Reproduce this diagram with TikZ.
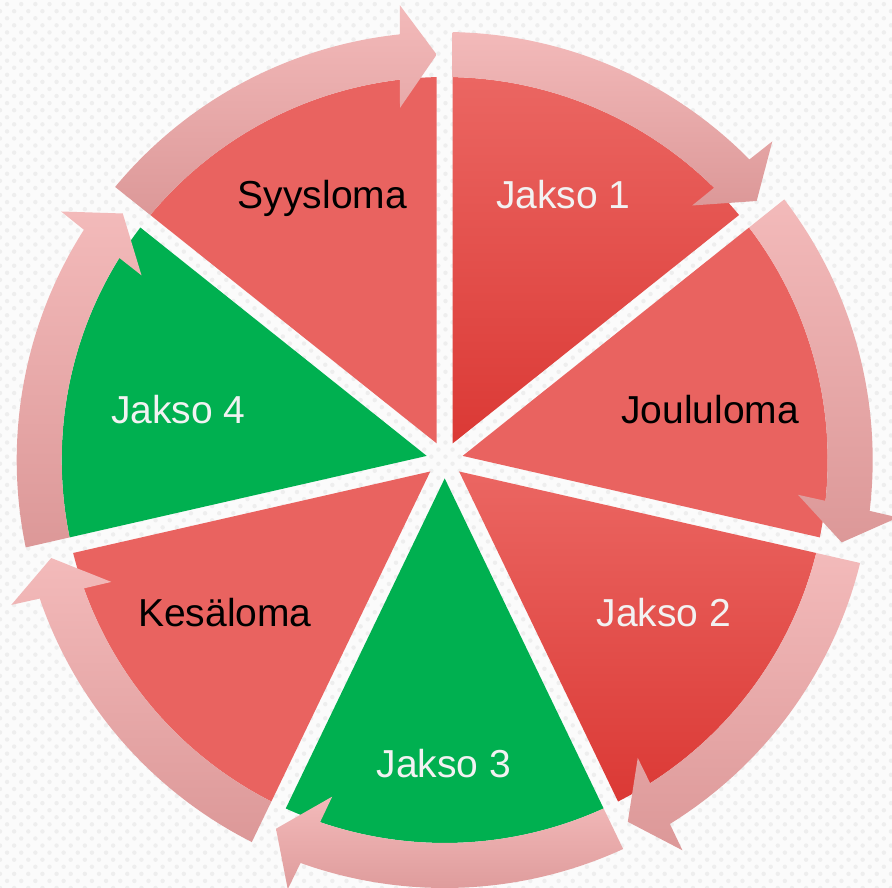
\documentclass[tikz,border=0pt]{standalone}
\usepackage{fontspec}
\setmainfont{Liberation Sans}
\usetikzlibrary{patterns.meta}
\definecolor{bgc}{RGB}{251,251,251}
\definecolor{dotc}{RGB}{238,238,238}
\definecolor{segred}{RGB}{233,99,96}
\definecolor{gradtop}{RGB}{235,102,98}
\definecolor{gradbot}{RGB}{219,57,53}
\definecolor{seggreen}{RGB}{0,176,80}
\definecolor{arrtop}{RGB}{243,186,186}
\definecolor{arrbot}{RGB}{220,152,152}
\definecolor{lighttext}{RGB}{242,242,242}
\newcommand{\mysector}[2]{%
  \pgfmathsetmacro{\secHi}{#1}%
  \pgfmathsetmacro{\secLo}{#1-51.428571}%
  \pgfmathsetmacro{\secMid}{#1-25.714286}%
  \pgfmathsetmacro{\secA}{\secLo+1.197}%
  \pgfmathsetmacro{\secB}{\secHi-1.197}%
  \path[#2] (\secMid:18.44pt) -- (\secA:383pt)
    arc[start angle=\secA, end angle=\secB, radius=383pt] -- cycle;}
\newcommand{\myarrow}[1]{%
  \pgfmathsetmacro{\arSa}{#1-1.071}%
  \pgfmathsetmacro{\arSb}{#1-1.197}%
  \pgfmathsetmacro{\arTip}{#1-51.428571+1.13}%
  \pgfmathsetmacro{\arOB}{\arTip+4.5}%
  \pgfmathsetmacro{\arON}{\arTip+4.9}%
  \pgfmathsetmacro{\arIN}{\arTip+5.6}%
  \pgfmathsetmacro{\arIB}{\arTip+6.1}%
  \path[arrowband] (\arSa:428pt)
    arc[start angle=\arSa, end angle=\arON, radius=428pt]
    -- (\arOB:457pt) -- (\arTip:405.5pt) -- (\arIB:355pt) -- (\arIN:383pt)
    arc[start angle=\arIN, end angle=\arSb, radius=383pt] -- cycle;}
\tikzset{
  redseg/.style={fill=segred},
  gradseg/.style={top color=gradtop, bottom color=gradbot},
  greenseg/.style={fill=seggreen},
  arrowband/.style={top color=arrtop, bottom color=arrbot},
  lbl/.style={font=\fontsize{39}{46}\selectfont, anchor=base, inner sep=0pt},
  darklbl/.style={lbl, text=black},
  lightlbl/.style={lbl, text=lighttext}
}
\begin{document}
\begin{tikzpicture}[x=1pt,y=1pt]
\useasboundingbox (-444.7,-428) rectangle (447.3,460);
\clip (-444.7,-428) rectangle (447.3,460);
\fill[bgc] (-444.7,-428) rectangle (447.3,460);
\fill[pattern={Dots[distance=10pt,angle=45,radius=2.2pt]}, pattern color=dotc]
  (-444.7,-428) rectangle (447.3,460);
% sectors
\mysector{90}{gradseg}
\mysector{38.571429}{redseg}
\mysector{-12.857143}{gradseg}
\mysector{-64.285714}{greenseg}
\mysector{-115.714286}{redseg}
\mysector{-167.142857}{greenseg}
\mysector{141.428571}{redseg}
% arrows
\myarrow{90}
\myarrow{38.571429}
\myarrow{-12.857143}
\myarrow{-64.285714}
\myarrow{-115.714286}
\myarrow{-167.142857}
\myarrow{141.428571}
% labels
\node[lightlbl] (j1) at (118.6,251.7) {Jakso 1};
\node[darklbl] (joulu) at (265.6,36.7) {Joululoma};
\node[lightlbl] (j2) at (219.3,-167) {Jakso 2};
\node[lightlbl] (j3) at (-0.7,-318) {Jakso 3};
\node[darklbl] (kesa) at (-219.7,-167) {Kesäloma};
\node[lightlbl] (j4) at (-266.2,36) {Jakso 4};
\node[darklbl] (syys) at (-122.2,251.7) {Syysloma};
\end{tikzpicture}
\end{document}
